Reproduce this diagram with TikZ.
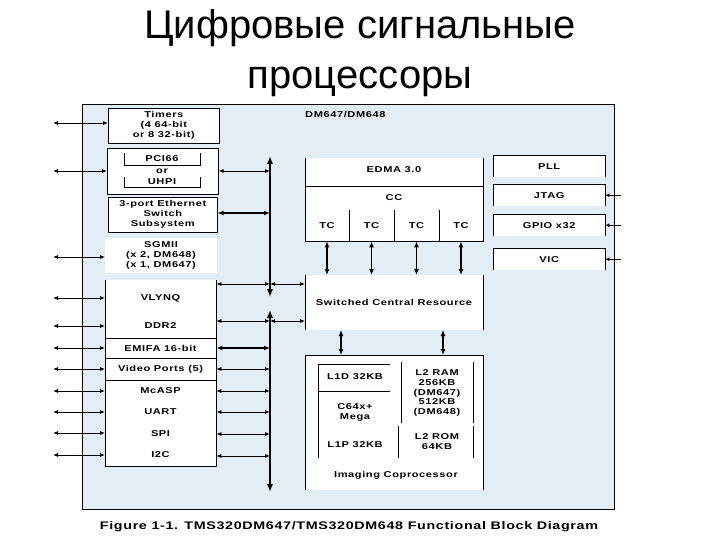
\documentclass[tikz,border=0pt]{standalone}
\usepackage{fontspec}
\setmainfont{Liberation Sans}
\newfontfamily\ttlfont{Liberation Sans}
\newfontfamily\blkfont[FakeStretch=1.3, LetterSpace=7, BoldFeatures={FakeStretch=1.3, LetterSpace=7}]{Liberation Sans}
\newfontfamily\capfont[FakeStretch=1.3, LetterSpace=6, BoldFeatures={FakeStretch=1.3, LetterSpace=6}]{Liberation Sans}
\usetikzlibrary{arrows.meta}
\definecolor{dmblue}{RGB}{227,237,246}
\tikzset{
  ttl/.style={font=\ttlfont\fontsize{40}{48}\selectfont, inner sep=0pt, anchor=base},
  txt/.style={font=\blkfont\bfseries\fontsize{8.5}{10}\selectfont, align=center, inner sep=0pt},
  capt/.style={font=\capfont\bfseries\fontsize{11}{13}\selectfont, inner sep=0pt, anchor=base},
  wbox/.style={draw, line width=0.6pt, fill=white, anchor=north west, inner sep=0pt, align=center,
    font=\blkfont\bfseries\fontsize{8.5}{10}\selectfont},
  wfill/.style={fill=white, anchor=north west, inner sep=0pt},
  edge/.style={line width=0.6pt},
  ar/.style={line width=0.8pt, {Latex[length=5pt,width=4pt]}-{Latex[length=5pt,width=4pt]}},
  arthick/.style={line width=1.4pt, {Latex[length=6pt,width=5pt]}-{Latex[length=6pt,width=5pt]}},
  busar/.style={line width=1.6pt, {Latex[length=8pt,width=6.5pt]}-{Latex[length=8pt,width=6.5pt]}},
}
\begin{document}
\begin{tikzpicture}[x=1pt,y=-1pt]
\useasboundingbox (0,0) rectangle (720,540);
% title
\node[ttl] (t1) at (360,39) {Цифровые сигнальные};
\node[ttl] (t2) at (360,89) {процессоры};
% outer chip box
\node[draw, line width=0.8pt, fill=dmblue, anchor=north west, minimum width=532pt, minimum height=405pt, inner sep=0pt] (dm) at (82,104) {};
\node[txt, anchor=west] (dmlbl) at (305,115) {DM647/DM648};
% ---- left column
\node[wbox, minimum width=111pt, minimum height=35pt] (timers) at (108,108) {Timers\\(4 64-bit\\or 8 32-bit)};
\node[wbox, minimum width=111pt, minimum height=46pt] (pci) at (107,148) {};
\node[txt] (pcit) at (162,159) {PCI66};
\node[txt] (ort) at (162,171) {or};
\node[txt] (uhpit) at (162,182) {UHPI};
\draw[edge] (124,153) -- (124,165) -- (200,165) -- (200,153);
\draw[edge] (124,177) -- (124,187) -- (200,187) -- (200,177);
\node[wbox, minimum width=109pt, minimum height=35pt] (eth) at (108,197) {3-port Ethernet\\Switch\\Subsystem};
\node[wfill, minimum width=112pt, minimum height=35pt, align=center] (sgmii) at (105,238) {};
\node[txt] (sgmiit) at (161,255) {SGMII\\(x 2, DM648)\\(x 1, DM647)};
\node[wfill, minimum width=111pt, minimum height=186pt] (low) at (105,280) {};
\draw[edge] (low.north west) -- (low.south west) -- (low.south east) -- (low.north east);
\draw[edge] (105,338) -- (216,338);
\draw[edge] (105,358) -- (216,358);
\draw[edge] (105,380) -- (216,380);
\node[txt] (vlynq) at (160.5,298) {VLYNQ};
\node[txt] (ddr2) at (160.5,326) {DDR2};
\node[txt] (emifa) at (160.5,348) {EMIFA 16-bit};
\node[txt] (video) at (160.5,369) {Video Ports (5)};
\node[txt] (mcasp) at (160.5,391) {McASP};
\node[txt] (uart) at (160.5,412) {UART};
\node[txt] (spi) at (160.5,434) {SPI};
\node[txt] (i2c) at (160.5,455) {I2C};
% left external arrows
\foreach \y/\b [count=\i] in {123/timers,171/pci,257/sgmii,298/low,326/low,348/low,369/low,391/low,412/low,433/low,455/low}{
  \coordinate (L\i) at (53,\y);
  \draw[ar] (L\i) -- (L\i -| \b.west);
}
% bus
\coordinate (busTop) at (270,156);
\coordinate (busM1) at (270,297);
\coordinate (busM2) at (270,310);
\coordinate (busBot) at (270,492);
\draw[busar] (busTop) -- (busM1);
\draw[busar] (busM2) -- (busBot);
% arrows from left column to bus
\foreach \y/\b [count=\i] in {171/pci,284/low,321/low,369/low,391/low,412/low,434/low,456/low}{
  \coordinate (R\i) at (270,\y);
  \draw[ar] (R\i -| \b.east) -- (R\i);
}
\coordinate (Reth) at (270,213);
\draw[arthick] (Reth -| eth.east) -- (Reth);
\coordinate (Remif) at (270,348);
\draw[arthick] (Remif -| low.east) -- (Remif);
% ---- EDMA
\node[wfill, minimum width=178pt, minimum height=83pt] (edma) at (305,158) {};
\draw[edge] (edma.north west) -- (edma.south west) -- (edma.south east) -- (edma.north east);
\draw[edge] (305,186) -- (483,186);
\foreach \x in {349,394,439} \draw[edge] (\x,210) -- (\x,241);
\node[txt] (edmat) at (394,170) {EDMA 3.0};
\node[txt] (cc) at (394,198) {CC};
\node[txt] (tc1) at (327,226) {TC};
\node[txt] (tc2) at (371.5,226) {TC};
\node[txt] (tc3) at (416.5,226) {TC};
\node[txt] (tc4) at (461,226) {TC};
% ---- SCR
\node[wfill, minimum width=178pt, minimum height=55pt] (scr) at (305,275) {};
\draw[edge] (scr.north west) -- (scr.south west);
\draw[edge] (scr.north east) -- (scr.south east);
\node[txt] (scrt) at (394,302) {Switched Central Resource};
\foreach \t in {tc1,tc2,tc3,tc4} \draw[arthick] (\t |- edma.south) -- (\t |- scr.north);
% bus to SCR
\foreach \y [count=\i] in {284,321}{
  \coordinate (S\i) at (270,\y);
  \draw[ar] (S\i) -- (S\i -| scr.west);
}
% ---- core
\node[wfill, minimum width=178pt, minimum height=135pt] (core) at (305,355) {};
\draw[edge] (core.south west) -- (core.north west) -- (core.north east) -- (core.south east);
\coordinate (c1) at (341,330);
\coordinate (c2) at (443,330);
\draw[arthick] (c1) -- (c1 |- core.north);
\draw[arthick] (c2) -- (c2 |- core.north);
\draw[edge] (390,364) -- (318,364) -- (318,458);
\draw[edge] (318,391) -- (390,391);
\draw[edge] (401,362) -- (401,423);
\draw[edge] (473,362) -- (473,423);
\draw[edge] (398,426) -- (398,458);
\draw[edge] (473,426) -- (473,458);
\node[txt] (l1d) at (355,377) {L1D 32KB};
\node[txt] (c64) at (355,412) {C64x+\\Mega};
\node[txt] (l1p) at (355,445) {L1P 32KB};
\node[txt, font=\blkfont\bfseries\fontsize{8.5}{9.8}\selectfont] (l2ram) at (437,393) {L2 RAM\\256KB\\(DM647)\\512KB\\(DM648)};
\node[txt] (l2rom) at (437,442) {L2 ROM\\64KB};
\node[txt] (imgc) at (396,475) {Imaging Coprocessor};
% ---- right boxes
\foreach \n/\y/\t in {pll/155/PLL,jtag/184/JTAG,gpio/214/GPIO x32,vic/248/VIC}{
  \node[wfill, minimum width=112pt, minimum height=22pt] (\n) at (493,\y) {};
  \draw[edge] (\n.south west) -- (\n.north west) -- (\n.north east) -- (\n.south east);
  \node[txt] (\n t) at (\n.center) {\t};
}
\foreach \n [count=\i] in {jtag,gpio,vic}{
  \coordinate (E\i) at (621,0);
  \draw[line width=0.8pt, {Latex[length=4pt,width=4pt]}-] (\n.east) -- (E\i |- \n.east);
}
% caption
\node[capt] (cap) at (349,529) {Figure 1-1. TMS320DM647/TMS320DM648 Functional Block Diagram};
\end{tikzpicture}
\end{document}
